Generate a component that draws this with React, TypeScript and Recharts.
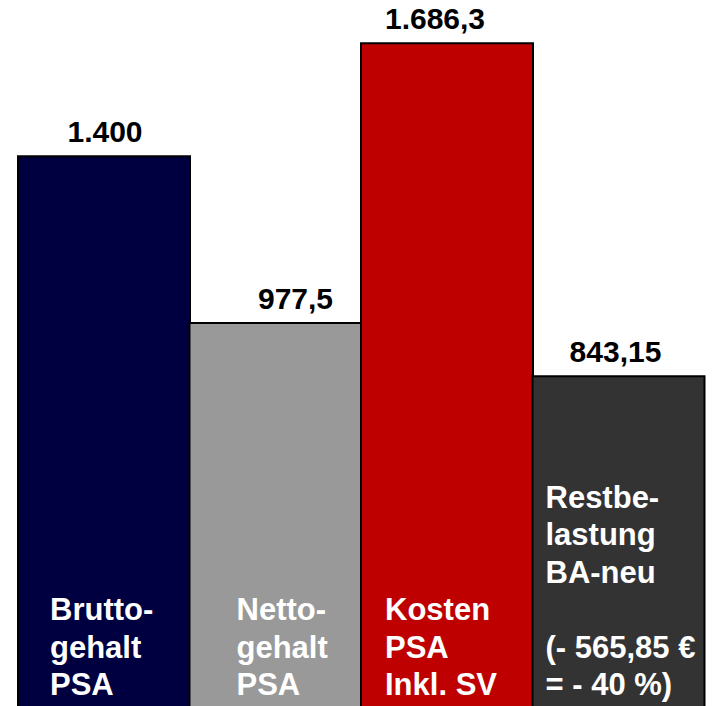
import React from 'react';
import { BarChart, Bar, Cell, XAxis, YAxis, LabelList } from 'recharts';

const categories = ['Bruttogehalt PSA', 'Nettogehalt PSA', 'Kosten PSA Inkl. SV', 'Restbelastung BA-neu'];
const values = [1400, 977.5, 1686.3, 843.15];
const valueLabels = ['1.400', '977,5', '1.686,3', '843,15'];
const barTexts = [
    ['Brutto-', 'gehalt', 'PSA'],
    ['Netto-', 'gehalt', 'PSA'],
    ['Kosten', 'PSA', 'Inkl. SV'],
    ['Restbe-', 'lastung', 'BA-neu', '', '(- 565,85 €', '= - 40 %)'],
];

const COLORS = ['#000040', '#999999', '#BF0000', '#333333'];
// small nudges so labels sit like in the original slide
const VALUE_DX = [1, 20, -12, -3];
const TEXT_DX = [32, 47, 24, 13];
const FONT = '"Liberation Sans", Arial, sans-serif';

const chartData = categories.map((name, i) => ({
    name,
    value: values[i],
    label: valueLabels[i],
    idx: i,
}));

const ValueLabel = (props: any) => {
    const { x, y, width, index } = props;
    return (
        <text
            x={x + width / 2 + VALUE_DX[index]}
            y={y - 14}
            textAnchor="middle"
            fontFamily={FONT}
            fontWeight="bold"
            fontSize={30}
            fill="#000"
        >
            {valueLabels[index]}
        </text>
    );
};

const InnerLabel = (props: any) => {
    const { x, y, height, index } = props;
    const lines = barTexts[index];
    const bottom = y + height - 14;
    return (
        <text fontFamily={FONT} fontWeight="bold" fontSize={31} fill="#fff">
            {lines.map((line, i) => (
                <tspan key={i} x={x + TEXT_DX[index]} y={bottom - (lines.length - 1 - i) * 37.5}>
                    {line}
                </tspan>
            ))}
        </text>
    );
};

const App: React.FC = () => {
    return (
        <div style={{ position: 'fixed', left: 0, top: 0, width: 712, height: 706, overflow: 'hidden', background: '#fff' }}>
            <BarChart
                width={712}
                height={712}
                data={chartData}
                margin={{ top: 0, right: 8, left: 18, bottom: 3 }}
                barCategoryGap={0}
            >
                <XAxis dataKey="name" hide />
                <YAxis hide domain={[0, 1796]} />
                <Bar dataKey="value" stroke="#000" strokeWidth={2} isAnimationActive={false}>
                    {chartData.map((entry, index) => (
                        <Cell key={`cell-${index}`} fill={COLORS[index]} />
                    ))}
                    <LabelList dataKey="label" content={<ValueLabel />} />
                    <LabelList dataKey="name" content={<InnerLabel />} />
                </Bar>
            </BarChart>
        </div>
    );
};

export default App;
